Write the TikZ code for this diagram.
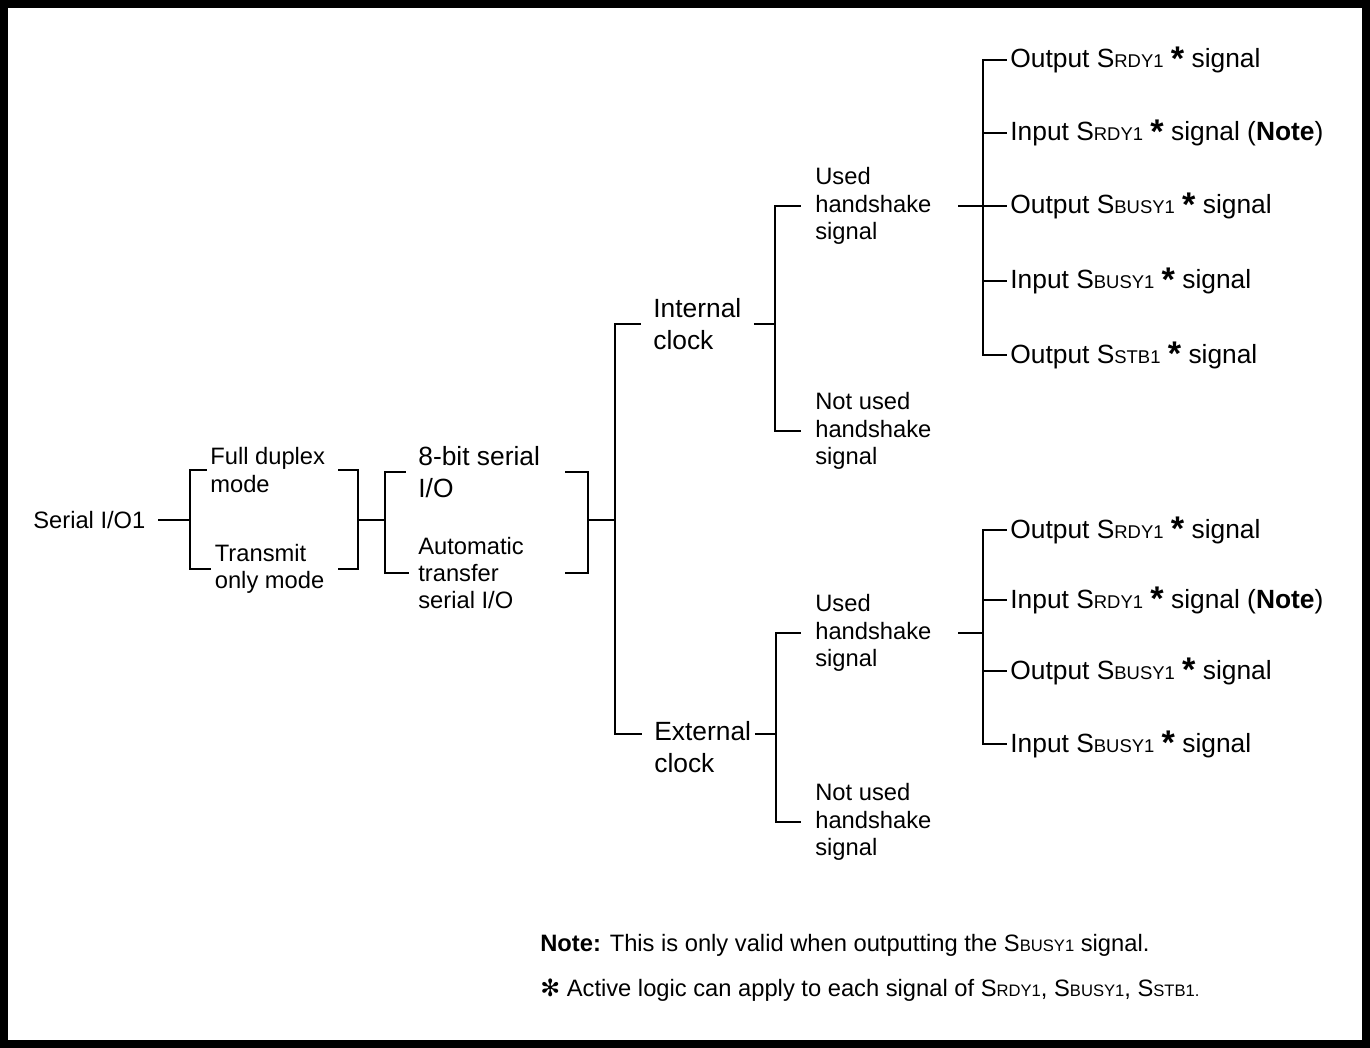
\documentclass[tikz,border=0pt]{standalone}
\usepackage{fontspec}
\setmainfont{Liberation Sans}
\newfontfamily\symfont{DejaVu Sans}
\usetikzlibrary{positioning, calc}
\newcommand{\sgn}[1]{S\scalebox{0.7}{#1}}
\newcommand{\astk}{\raisebox{-1.2pt}{\scalebox{1.3}{\textbf{*}}}}
\tikzset{
  every node/.style={anchor=west, inner xsep=2pt, inner ysep=0pt, align=left},
  sml/.style={font=\fontsize{13.5}{15.5}\selectfont},
  big/.style={font=\fontsize{15}{18}\selectfont},
  br/.style={line width=1.1pt},
  frame/.style={line width=4.4pt},
}

\begin{document}
\begin{tikzpicture}[x=0.02cm, y=-0.02cm]
  \useasboundingbox (0,0) rectangle (1370,1048);
  \draw[frame] (3.8,3.8) rectangle (1366.2,1044.2);
  % root, modes, transfer
  \node[sml] (sio) at (29.5,520) {Serial I/O1};
  \node[sml] (full) at (206.5,470) {Full duplex\\mode};
  \node[sml] (tx) at (211,569) {Transmit\\only mode};
  \node[big] (bit8) at (414.5,472) {8-bit serial\\I/O};
  \node[sml] (auto) at (414.5,573) {Automatic\\transfer\\serial I/O};
  \coordinate (j1) at (190,520);
  \coordinate (j2) at (358,520);
  \coordinate (j3) at (385,520);
  \coordinate (j4) at (588,520);
  \coordinate (j5) at (615,520);
  \draw[br] ([xshift=5pt]sio.east) -- (j1);
  \draw[br] (full.west) -| (j1) |- (tx.west);
  \draw[br] ($(j2 |- full.west)+(-20,0)$) -| (j2) |- ($(j2 |- tx.west)+(-20,0)$);
  \draw[br] (j2) -- (j3);
  \draw[br] ([xshift=-5pt]bit8.west) -| (j3) |- ([xshift=-3pt]auto.west);
  \draw[br] ($(j4 |- bit8.west)+(-23,0)$) -| (j4) |- ($(j4 |- auto.west)+(-23,0)$);
  \draw[br] (j4) -- (j5);
  % clocks
  \node[big] (intc) at (649.5,324) {Internal\\clock};
  \node[big] (extc) at (650.5,747) {External\\clock};
  \draw[br] ([xshift=-5pt]intc.west) -| (j5) |- ([xshift=-5pt, yshift=7.4pt]extc.west);
  % handshake
  \node[sml] (uh1) at (811.5,206) {Used\\handshake\\signal};
  \node[sml] (nh1) at (811.5,431) {Not used\\handshake\\signal};
  \node[sml] (uh2) at (811.5,633) {Used\\handshake\\signal};
  \node[sml] (nh2) at (811.5,822) {Not used\\handshake\\signal};
  \coordinate (j6) at (775,324);
  \draw[br] ([xshift=5pt]intc.east) -- (j6);
  \draw[br] ([xshift=-6pt]uh1.west) -| (j6) |- ([xshift=-6pt]nh1.west);
  \draw[br] ([yshift=7.4pt]extc.east) -- ++(21.5,0) coordinate (j7);
  \draw[br] ([xshift=-6pt]uh2.west) -| (j7) |- ([xshift=-6pt]nh2.west);
  % signals, internal clock
  \node[big] (l1) at (1006.5,60) {Output \sgn{RDY1} \astk{} signal};
  \node[big] (l2) at (1006.5,133) {Input \sgn{RDY1} \astk{} signal (\textbf{Note})};
  \node[big] (l3) at (1006.5,206) {Output \sgn{BUSY1} \astk{} signal};
  \node[big] (l4) at (1006.5,281) {Input \sgn{BUSY1} \astk{} signal};
  \node[big] (l5) at (1006.5,355) {Output \sgn{STB1} \astk{} signal};
  \coordinate (j8) at (983,206);
  \draw[br] ([xshift=13pt]uh1.east) -- (j8);
  \draw[br] (l1.west) -| (j8) |- (l5.west);
  \draw[br] (j8 |- l2.west) -- (l2.west);
  \draw[br] (j8) -- (l3.west);
  \draw[br] (j8 |- l4.west) -- (l4.west);
  % signals, external clock
  \node[big] (m1) at (1006.5,530) {Output \sgn{RDY1} \astk{} signal};
  \node[big] (m2) at (1006.5,600) {Input \sgn{RDY1} \astk{} signal (\textbf{Note})};
  \node[big] (m3) at (1006.5,671) {Output \sgn{BUSY1} \astk{} signal};
  \node[big] (m4) at (1006.5,744) {Input \sgn{BUSY1} \astk{} signal};
  \coordinate (j9) at (983,633);
  \draw[br] ([xshift=13pt]uh2.east) -- (j9);
  \draw[br] (m1.west) -| (j9) |- (m4.west);
  \draw[br] (j9 |- m2.west) -- (m2.west);
  \draw[br] (j9 |- m3.west) -- (m3.west);
  % notes
  \node[sml] (note) at (536.5,945) {\textbf{Note:} This is only valid when outputting the \sgn{BUSY1} signal.};
  \node[sml] (star) at (536.5,990) {{\symfont ✻} Active logic can apply to each signal of \sgn{RDY1}, \sgn{BUSY1}, \sgn{STB1.}};
\end{tikzpicture}
\end{document}
